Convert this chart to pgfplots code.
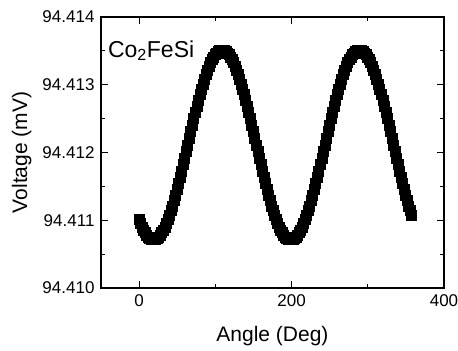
\documentclass[border=0pt]{standalone}
\usepackage{fontspec}
\setmainfont{Liberation Sans}
\usepackage{pgfplots}
\pgfplotsset{compat=1.18}
\usepackage{pgfplotstable}
\usetikzlibrary{calc}
% y values are read as written (94.41xxxx mV) and mapped to (V-94.410 mV)*1000 for precision
\def\stripV94.41#1#2\relax{\def\pgfmathresult{#1.#2}}
\pgfplotstableread{
x y
0 94.411007
2 94.410949
4 94.410898
6 94.410852
8 94.410812
10 94.410779
12 94.410752
14 94.410731
16 94.410718
18 94.410711
20 94.410711
22 94.410718
24 94.410731
26 94.410752
28 94.410779
30 94.410812
32 94.410852
34 94.410898
36 94.410949
38 94.411007
40 94.411070
42 94.411138
44 94.411210
46 94.411287
48 94.411368
50 94.411453
52 94.411541
54 94.411631
56 94.411724
58 94.411819
60 94.411915
62 94.412012
64 94.412110
66 94.412208
68 94.412305
70 94.412401
72 94.412496
74 94.412589
76 94.412679
78 94.412767
80 94.412852
82 94.412933
84 94.413010
86 94.413083
88 94.413150
90 94.413213
92 94.413271
94 94.413322
96 94.413368
98 94.413408
100 94.413442
102 94.413468
104 94.413489
106 94.413502
108 94.413509
110 94.413509
112 94.413502
114 94.413489
116 94.413468
118 94.413442
120 94.413408
122 94.413368
124 94.413322
126 94.413271
128 94.413213
130 94.413150
132 94.413083
134 94.413010
136 94.412933
138 94.412852
140 94.412767
142 94.412679
144 94.412589
146 94.412496
148 94.412401
150 94.412305
152 94.412208
154 94.412110
156 94.412012
158 94.411915
160 94.411819
162 94.411724
164 94.411631
166 94.411541
168 94.411453
170 94.411368
172 94.411287
174 94.411210
176 94.411138
178 94.411070
180 94.411007
182 94.410949
184 94.410898
186 94.410852
188 94.410812
190 94.410779
192 94.410752
194 94.410731
196 94.410718
198 94.410711
200 94.410711
202 94.410718
204 94.410731
206 94.410752
208 94.410779
210 94.410812
212 94.410852
214 94.410898
216 94.410949
218 94.411007
220 94.411070
222 94.411138
224 94.411210
226 94.411287
228 94.411368
230 94.411453
232 94.411541
234 94.411631
236 94.411724
238 94.411819
240 94.411915
242 94.412012
244 94.412110
246 94.412208
248 94.412305
250 94.412401
252 94.412496
254 94.412589
256 94.412679
258 94.412767
260 94.412852
262 94.412933
264 94.413010
266 94.413083
268 94.413150
270 94.413213
272 94.413271
274 94.413322
276 94.413368
278 94.413408
280 94.413442
282 94.413468
284 94.413489
286 94.413502
288 94.413509
290 94.413509
292 94.413502
294 94.413489
296 94.413468
298 94.413442
300 94.413408
302 94.413368
304 94.413322
306 94.413271
308 94.413213
310 94.413150
312 94.413083
314 94.413010
316 94.412933
318 94.412852
320 94.412767
322 94.412679
324 94.412589
326 94.412496
328 94.412401
330 94.412305
332 94.412208
334 94.412110
336 94.412012
338 94.411915
340 94.411819
342 94.411724
344 94.411631
346 94.411541
348 94.411453
350 94.411368
352 94.411287
354 94.411210
356 94.411138
358 94.411070
}\datatable
\begin{document}
\begin{tikzpicture}
\begin{axis}[
  scale only axis,
  width=343pt, height=271pt,
  xmin=-50, xmax=400,
  ymin=94.4100, ymax=94.4140,
  y coord trafo/.code={\expandafter\stripV#1\relax},
  xtick={0,200,400}, minor xtick={100,300},
  ytick={94.4100,94.4110,94.4120,94.4130,94.4140},
  minor ytick={94.4105,94.4115,94.4125,94.4135},
  yticklabels={94.410,94.411,94.412,94.413,94.414},
  /pgf/number format/assume math mode=true,
  tick align=inside,
  major tick length=7pt, minor tick length=4pt,
  axis line style={line width=1.2pt},
  every tick/.style={black, line width=1.2pt},
  tick label style={font=\fontsize{17}{17}\selectfont},
  label style={font=\fontsize{21}{21}\selectfont},
  xlabel={Angle (Deg)}, ylabel={Voltage (mV)},
  xticklabel style={yshift=-3pt},
  yticklabel style={xshift=-3pt},
  xlabel style={yshift=-13pt},
  ylabel style={yshift=4pt},
]
\addplot[only marks, mark=square*, mark size=5pt, mark options={draw=black, fill=black, line width=0pt}] table[x=x, y=y] {\datatable};
\node[anchor=base west, inner sep=0pt, font=\fontsize{23}{23}\selectfont] at (rel axis cs:0.02,0.852) {Co\textsubscript{2}FeSi};
\end{axis}
\pgfresetboundingbox
\path ($(current axis.south west)+(-101pt,-63pt)$) rectangle ($(current axis.north east)+(14pt,17pt)$);
\end{tikzpicture}
\end{document}
